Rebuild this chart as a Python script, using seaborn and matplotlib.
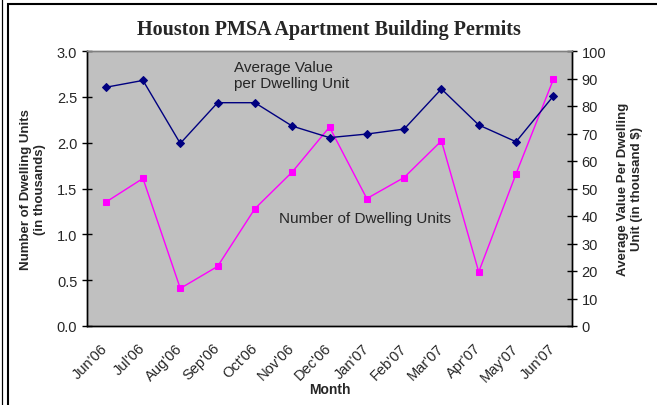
import pandas as pd
import matplotlib.pyplot as plt
import matplotlib.transforms as mtransforms
import seaborn as sns
from matplotlib.patches import Rectangle

months = ["Jun'06", "Jul'06", "Aug'06", "Sep'06", "Oct'06", "Nov'06", "Dec'06",
          "Jan'07", "Feb'07", "Mar'07", "Apr'07", "May'07", "Jun'07"]
units = [1.35, 1.61, 0.41, 0.65, 1.28, 1.68, 2.17, 1.39, 1.62, 2.02, 0.59, 1.66, 2.69]
avg_value = [86.8, 89.3, 66.4, 81.2, 81.2, 72.7, 68.5, 69.8, 71.6, 86.2, 73.1, 67.0, 83.6]

df = pd.DataFrame({'pos': range(len(months)), 'Month': months,
                   'units': units, 'value': avg_value})

sns.set_style("white")
plt.rcParams['font.family'] = ['Liberation Sans', 'DejaVu Sans']

fig = plt.figure(figsize=(6.57, 4.06), dpi=100)
ax = fig.add_axes([87/657, 1-327/406, (572-87)/657, (327-52)/406])
ax2 = ax.twinx()

ax.set_facecolor('#C0C0C0')
sns.lineplot(data=df, x='pos', y='units', ax=ax, color='#FF00FF', lw=1,
             marker='s', markersize=5, markeredgecolor='#FF00FF')
sns.lineplot(data=df, x='pos', y='value', ax=ax2, color='#000080', lw=1,
             marker='D', markersize=4, markeredgecolor='#000080')

ax.set_xlim(-0.5, len(months) - 0.5)
ax.set_ylim(0, 3.0)
ax2.set_ylim(0, 100)
ax.set_yticks([0, 0.5, 1.0, 1.5, 2.0, 2.5, 3.0])
ax.set_yticklabels([f'{v:.1f}' for v in [0, 0.5, 1.0, 1.5, 2.0, 2.5, 3.0]])
ax2.set_yticks(range(0, 101, 10))

# category boundaries as ticks, labels at centers
ax.set_xticks([i - 0.5 for i in range(len(months) + 1)])
ax.set_xticklabels([])
ax.set_xticks(range(len(months)), minor=True)
ax.set_xticklabels(months, minor=True, rotation=45, ha='right', va='center',
                   rotation_mode='anchor', fontsize=10.5)
shift = mtransforms.ScaledTranslation(-5/100, 0, fig.dpi_scale_trans)
for lbl in ax.get_xticklabels(minor=True):
    lbl.set_transform(lbl.get_transform() + shift)
ax.tick_params(axis='x', which='minor', length=0, pad=14)
ax.tick_params(axis='x', which='major', direction='inout', length=7, width=1, color='black')
ax.tick_params(axis='y', direction='inout', length=7, width=1, color='black', labelsize=10.5)
ax2.tick_params(axis='y', direction='inout', length=7, width=1, color='black', labelsize=10.5)

for a in (ax, ax2):
    for s in a.spines.values():
        s.set_color('black')
        s.set_linewidth(1)
    a.spines['top'].set_color('#808080')

ax.set_xlabel('Month', fontsize=10, fontweight='bold', labelpad=-1)
ax.set_ylabel('Number of Dwelling Units\n(in thousands)', fontsize=9.5, fontweight='bold', labelpad=8)
ax2.set_ylabel('Average Value Per Dwelling\nUnit (in thousand $)', fontsize=9.5,
               fontweight='bold', labelpad=8)

ax.text(3.45, 2.9, 'Average Value\nper Dwelling Unit', fontsize=11, va='top', ha='left',
        linespacing=1.15)
ax.text(4.65, 1.18, 'Number of Dwelling Units', fontsize=11, va='center', ha='left')

fig.text(0.5, 1-30/406, 'Houston PMSA Apartment Building Permits', ha='center', va='center',
         fontsize=14.5, fontweight='bold', family=['Liberation Serif', 'DejaVu Serif'])

fig.patches.append(Rectangle((8/657, -0.05), 1.0, 1 - 5/406 + 0.05, transform=fig.transFigure,
                             fill=False, edgecolor='black', lw=1.5))
fig.patches.append(Rectangle((2/657, -0.05), 0.0, 1.2, transform=fig.transFigure,
                             fill=False, edgecolor='black', lw=0.8))

fig.savefig('out.png', dpi=100)
